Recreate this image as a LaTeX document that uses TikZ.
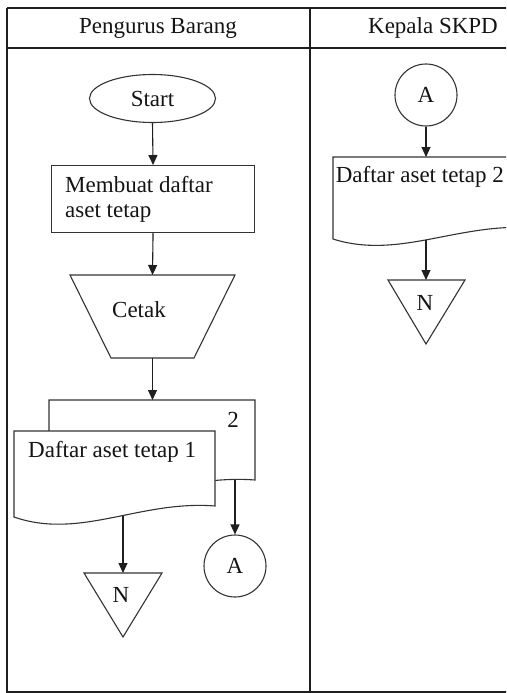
\documentclass[tikz,border=0pt]{standalone}
\usepackage{fontspec}
\setmainfont{Liberation Serif}
\usetikzlibrary{arrows.meta,shapes.geometric}
\begin{document}
\begin{tikzpicture}[x=1pt,y=-1pt,
  grid/.style={line width=1.5pt, draw=black!88},
  outline/.style={line width=1.1pt, draw=black!80},
  flow/.style={line width=1.1pt, draw=black!88, -{Triangle[length=10pt,width=9pt]}},
  txt/.style={font=\fontsize{23}{25}\selectfont, text=black!92, inner sep=0pt},
  connector/.style={circle, outline, minimum size=62pt, inner sep=0pt, txt},
]
\useasboundingbox (0,0) rectangle (506,693);
\clip (0,0) rectangle (506,693);

% swimlane table
\draw[grid] (7,8) -- (520,8);
\draw[grid] (7,48) -- (520,48);
\draw[grid] (7,8) -- (7,692) -- (520,692);
\draw[grid] (310,8) -- (310,692);
\node[txt] (lane1) at (158,28) {Pengurus Barang};
\node[txt] (lane2) at (433,28) {Kepala SKPD};

% ---- Pengurus Barang ----
\node[ellipse, outline, minimum width=126pt, minimum height=48pt, inner sep=0pt, txt] (start) at (152.5,98.5) {Start};

\node[draw, outline, minimum width=203pt, minimum height=67pt, anchor=north west, inner sep=0pt] (make) at (51,165) {};
\node[txt, anchor=west, align=left] (maketext) at (65,199.5) {Membuat daftar\\aset tetap};

% manual operation (print)
\draw[outline] (70,275) -- (235,275) -- (194,358) -- (111,358) -- cycle;
\coordinate (printtop) at (152.5,275);
\coordinate (printbot) at (152.5,358);
\node[txt] (printtext) at (139,310) {Cetak};

% document copies 2 (back) and 1 (front)
\draw[outline, fill=white] (49,400) -- (255,400) -- (255,480)
  .. controls (175,474) and (115,514) .. (49,491) -- cycle;
\coordinate (doc2top) at (152.5,400);
\coordinate (doc2out) at (235,479.5);
\node[txt] (copy2) at (233,420) {2};

\draw[outline, fill=white] (14,431) -- (215,431) -- (215,506)
  .. controls (140,500) and (80,540) .. (14,517) -- cycle;
\coordinate (doc1out) at (123,515.5);
\node[txt, anchor=west] (doc1text) at (28,452) {Daftar aset tetap 1};

% file (N) and off-page connector (A)
\draw[outline] (84,573) -- (162,573) -- (123,637) -- cycle;
\coordinate (file1top) at (123,573);
\node[txt] (file1text) at (121,595) {N};

\node[connector] (conn1) at (235,566) {A};

\draw[flow] (start.south) -- (make.north);
\draw[flow] (make.south) -- (printtop);
\draw[flow] (printbot) -- (doc2top);
\draw[flow] (doc1out) -- (file1top);
\draw[flow] (doc2out) -- (conn1.north);

% ---- Kepala SKPD ----
\node[connector] (conn2) at (426,95) {A};

\draw[outline, fill=white] (333,157) -- (534,157) -- (534,228)
  .. controls (459,222) and (399,260) .. (333,239) -- cycle;
\coordinate (doc3top) at (426,157);
\coordinate (doc3out) at (426,239.5);
\node[txt, anchor=east] (doc3text) at (504,177) {Daftar aset tetap 2};

\draw[outline] (388,280) -- (465,280) -- (426,344) -- cycle;
\coordinate (file2top) at (426,280);
\node[txt] (file2text) at (425,303) {N};

\draw[flow] (conn2.south) -- (doc3top);
\draw[flow] (doc3out) -- (file2top);
\end{tikzpicture}
\end{document}
